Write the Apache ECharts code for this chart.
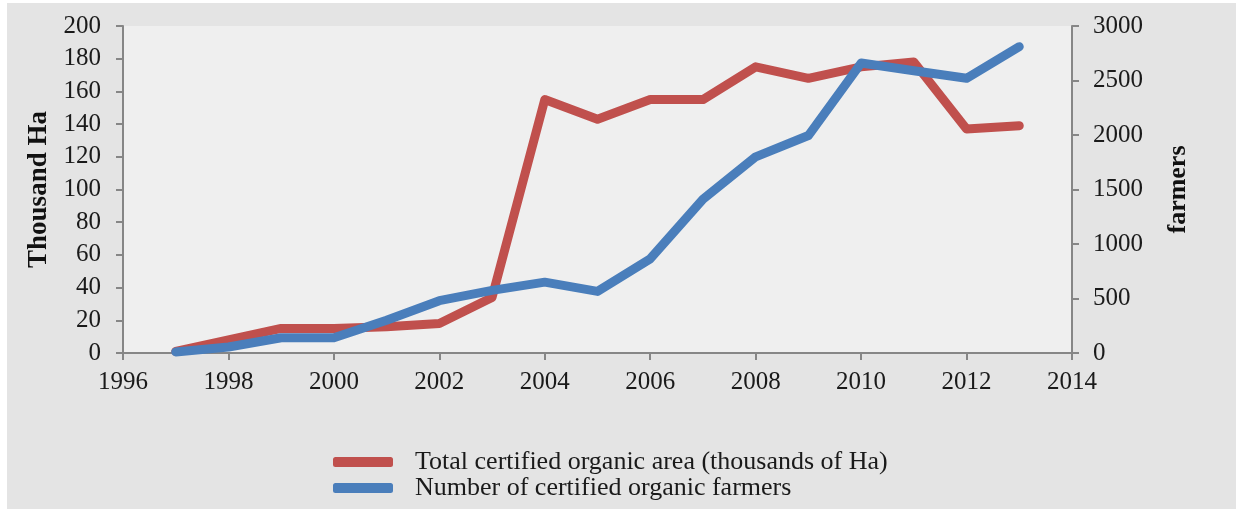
<!DOCTYPE html>
<html>
<head>
<meta charset="utf-8">
<script src="https://cdn.jsdelivr.net/npm/echarts@6/dist/echarts.min.js"></script>
<style>
  html, body { margin:0; padding:0; background:#ffffff; }
  #bg { position:absolute; left:7px; top:3px; width:1229px; height:506px; background:#e4e4e4; }
  #main { position:absolute; left:0; top:0; width:1243px; height:515px; }
</style>
</head>
<body>
<div id="bg"></div>
<div id="main"></div>
<script>
const years = [1997,1998,1999,2000,2001,2002,2003,2004,2005,2006,2007,2008,2009,2010,2011,2012,2013];
const areaThousandHa = [1,8,15,15,16,18,34,155,143,155,155,175,168,175,178,137,139];
const farmers = [10,55,140,140,300,480,575,650,565,864,1410,1800,1995,2660,2590,2520,2810];
const seriesNames = ['Total certified organic area (thousands of Ha)', 'Number of certified organic farmers'];
const leftAxisName = 'Thousand Ha';
const rightAxisName = 'farmers';

const serif = '"Liberation Serif", "DejaVu Serif", serif';
const axisGray = '#868686';
const chart = echarts.init(document.getElementById('main'), null, {renderer:'canvas'});
chart.setOption({
  animation: false,
  backgroundColor: 'transparent',
  textStyle: { fontFamily: serif },
  grid: { left: 123, right: 171, top: 26, bottom: 162, show: true, backgroundColor: '#efefef', borderWidth: 0 },
  legend: {
    orient: 'vertical', left: 328, top: 444,
    itemWidth: 60, itemHeight: 10, itemGap: 0,
    icon: 'roundRect',
    textStyle: { fontFamily: serif, fontSize: 26, color: '#1a1a1a', lineHeight: 26, padding: [0,0,0,17] },
    data: seriesNames
  },
  xAxis: {
    type: 'value', min: 1996, max: 2014, interval: 2,
    axisLine: { lineStyle: { color: axisGray, width: 2 } },
    axisTick: { show: true, length: 7, lineStyle: { color: axisGray, width: 2 } },
    axisLabel: { color: '#1a1a1a', fontSize: 25, margin: 17, fontFamily: serif, formatter: v => String(v) },
    splitLine: { show: false }
  },
  yAxis: [
    {
      type: 'value', min: 0, max: 200, interval: 20, position: 'left',
      name: leftAxisName, nameLocation: 'middle', nameRotate: 90, nameGap: 69,
      nameTextStyle: { fontFamily: serif, fontWeight: 'bold', fontSize: 27, color: '#111' },
      axisLine: { show: true, lineStyle: { color: axisGray, width: 2 } },
      axisTick: { show: true, length: 7, lineStyle: { color: axisGray, width: 2 } },
      axisLabel: { color: '#1a1a1a', fontSize: 25, margin: 22, fontFamily: serif },
      splitLine: { show: false }
    },
    {
      type: 'value', min: 0, max: 3000, interval: 500, position: 'right',
      name: rightAxisName, nameLocation: 'middle', nameRotate: 90, nameGap: 93,
      nameTextStyle: { fontFamily: serif, fontWeight: 'bold', fontSize: 26, color: '#111' },
      axisLine: { show: true, lineStyle: { color: axisGray, width: 2 } },
      axisTick: { show: true, length: 7, lineStyle: { color: axisGray, width: 2 } },
      axisLabel: { color: '#1a1a1a', fontSize: 25, margin: 21, fontFamily: serif, formatter: v => String(v) },
      splitLine: { show: false }
    }
  ],
  series: [
    {
      name: seriesNames[0], type: 'line', yAxisIndex: 0, symbol: 'none',
      data: years.map((y, i) => [y, areaThousandHa[i]]),
      lineStyle: { color: '#c0504d', width: 9, cap: 'round', join: 'round' },
      itemStyle: { color: '#c0504d' }
    },
    {
      name: seriesNames[1], type: 'line', yAxisIndex: 1, symbol: 'none',
      data: years.map((y, i) => [y, farmers[i]]),
      lineStyle: { color: '#4a7ebb', width: 9, cap: 'round', join: 'round' },
      itemStyle: { color: '#4a7ebb' }
    }
  ]
});
</script>
</body>
</html>
